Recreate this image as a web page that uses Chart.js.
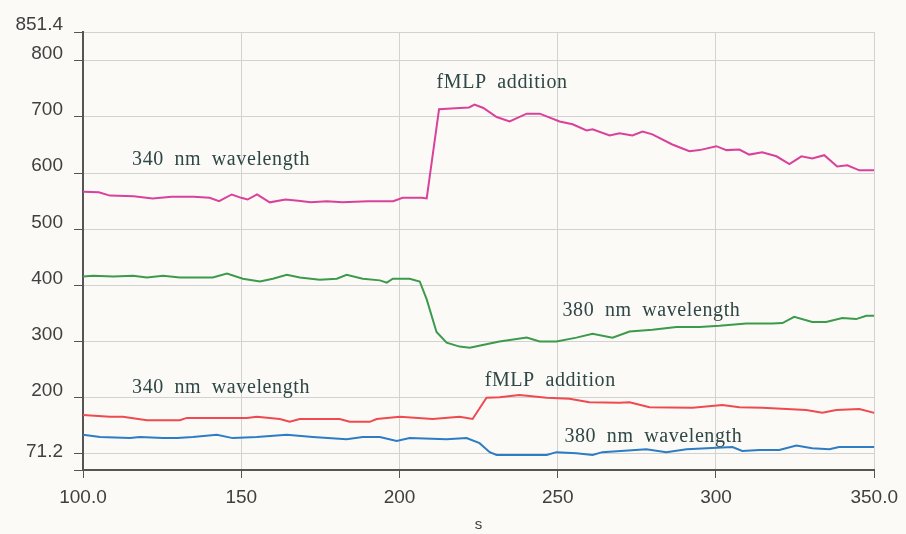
<!DOCTYPE html>
<html>
<head>
<meta charset="utf-8">
<script src="https://cdn.jsdelivr.net/npm/chart.js@4/dist/chart.umd.min.js"></script>
<style>
  html, body { margin: 0; padding: 0; background: #fbfaf7; }
  #wrap { width: 906px; height: 534px; position: relative; }
</style>
</head>
<body>
<div id="wrap"><canvas id="chart" width="906" height="534"></canvas></div>
<script>
// Time axis (s) and ratio values for each trace
const xTicks = [100, 150, 200, 250, 300, 350];
const yTicks = [71.2, 100, 200, 300, 400, 500, 600, 700, 800, 851.4];

const tMagenta = [100, 105, 108.5, 116, 122, 128, 135, 140, 143, 147, 150, 152, 155, 159, 164, 168, 172, 177, 182, 190, 198, 201, 207, 208.6, 212.5, 219, 222, 223.7, 226.5, 230.7, 234.8, 240.2, 244.3, 250.6, 254.7, 259.1, 261, 266.4, 269.5, 273.6, 276.8, 279.9, 286.2, 291.6, 294.8, 300.1, 303.3, 307.4, 310.5, 314.6, 319.1, 323.2, 327, 330.4, 334.2, 338.3, 341.5, 345.3, 350];
const vMagenta = [567, 566, 560, 559, 555, 558, 558, 556, 550, 562, 556, 553, 562, 548, 553, 551, 548, 550, 548, 550, 550, 556, 556, 555, 714, 716, 717, 722, 716, 700, 692, 706, 706, 692, 687, 676, 678, 667, 671, 667, 674, 669, 651, 639, 641, 648, 641, 642, 633, 637, 630, 616, 630, 626, 632, 612, 614, 605, 605];

const tGreen = [100, 103.2, 109.5, 115.8, 120.2, 125.3, 130.6, 141, 145.5, 150.5, 155.9, 160, 164.4, 168.5, 174.8, 180.2, 183.3, 188.4, 193.8, 196, 197.9, 203.2, 206.4, 208.6, 211.7, 214.9, 219, 222.2, 226.3, 231.6, 240.2, 244.3, 249.6, 255.9, 261, 267.3, 272.7, 279.9, 287.5, 294.8, 301.1, 309.6, 317.8, 321, 324.7, 330.4, 334.8, 339.9, 344.3, 347.5, 350];
const vGreen = [416, 417, 416, 417, 414, 417, 414, 414, 421, 412, 407, 412, 419, 414, 410, 412, 419, 412, 409, 405, 412, 412, 407, 375, 317, 298, 291, 289, 294, 300, 307, 300, 300, 307, 314, 307, 318, 321, 326, 326, 328, 332, 332, 333, 344, 335, 335, 342, 340, 346, 346];

const tRed = [100, 108.5, 112.6, 120.2, 130.6, 132.8, 151.8, 154.9, 162.2, 165.3, 168.5, 181.1, 184.3, 190.6, 192.8, 200.1, 210.5, 219, 223.1, 227.5, 231.6, 237.9, 246.5, 253.7, 260, 269.5, 272.7, 279, 292.6, 302, 307.4, 314.6, 328.5, 333.6, 338, 345.3, 350];
const vRed = [169, 166, 166, 160, 160, 164, 164, 166, 162, 157, 162, 162, 157, 157, 162, 166, 162, 166, 162, 200, 201, 205, 200, 198, 192, 191, 192, 183, 182, 187, 183, 182, 178, 173, 178, 180, 173];

const tBlue = [100, 105.4, 114.8, 118, 125.3, 129.7, 134.7, 142.3, 147.3, 154.9, 164.4, 172.6, 183.3, 188.4, 193.8, 199.1, 203.2, 214.9, 221.2, 225.3, 228.5, 230.7, 246.5, 249.6, 255.9, 261, 264.1, 278, 284.3, 290.7, 305.2, 308.3, 313.7, 320, 325.4, 330.4, 335.8, 338.9, 350];
const vBlue = [134, 130, 128, 130, 128, 128, 130, 134, 128, 130, 134, 130, 126, 130, 130, 123, 128, 126, 128, 119, 103, 98, 98, 103, 101, 98, 103, 108, 103, 108, 112, 105, 107, 107, 115, 110, 108, 112, 112];

// Text notes placed in data units: [time, value, text]
const notes = [
    [115.5, 614, '340 nm wavelength'],
    [211.7, 751, 'fMLP addition'],
    [251.5, 346, '380 nm wavelength'],
    [115.5, 209, '340 nm wavelength'],
    [226.9, 221, 'fMLP addition'],
    [252.1, 121, '380 nm wavelength']
];

const toPoints = (ts, vs) => ts.map((t, i) => ({ x: t, y: vs[i] }));

const notesPlugin = {
    id: 'notes',
    afterDatasetsDraw(chart) {
        const { ctx, scales } = chart;
        ctx.save();
        ctx.font = '20px "Liberation Serif", "Times New Roman", serif';
        ctx.fillStyle = '#2f4746';
        ctx.textAlign = 'left';
        ctx.textBaseline = 'alphabetic';
        if ('wordSpacing' in ctx) ctx.wordSpacing = '5px';
        if ('letterSpacing' in ctx) ctx.letterSpacing = '0.6px';
        notes.forEach(([t, v, text]) => {
            ctx.fillText(text, scales.x.getPixelForValue(t), scales.y.getPixelForValue(v));
        });
        ctx.restore();
    }
};

const line = (data, color) => ({
    data: data,
    borderColor: color,
    borderWidth: 2,
    pointRadius: 0,
    tension: 0,
    fill: false
});

const tickFont = { family: '"Liberation Sans", Arial, sans-serif', size: 19 };

new Chart(document.getElementById('chart'), {
    type: 'line',
    data: {
        datasets: [
            line(toPoints(tMagenta, vMagenta), '#d9419b'),
            line(toPoints(tGreen, vGreen), '#3c9a4c'),
            line(toPoints(tRed, vRed), '#ee4a50'),
            line(toPoints(tBlue, vBlue), '#2d7cc4')
        ]
    },
    options: {
        responsive: false,
        animation: false,
        layout: { padding: { top: 32, right: 31, left: 0, bottom: 0 } },
        plugins: {
            legend: { display: false },
            tooltip: { enabled: false }
        },
        scales: {
            x: {
                type: 'linear',
                min: 100,
                max: 350,
                afterBuildTicks: (scale) => { scale.ticks = xTicks.map(v => ({ value: v })); },
                afterFit: (scale) => { scale.height = 64; },
                ticks: {
                    font: tickFont,
                    color: '#404040',
                    padding: 8,
                    maxRotation: 0,
                    callback: (v) => (v === 100 || v === 350) ? v.toFixed(1) : String(v)
                },
                grid: { color: '#d2d2d0', lineWidth: 1, tickLength: 8, tickColor: '#555' },
                border: { color: '#555', width: 2 },
                title: {
                    display: true,
                    text: 's',
                    font: { family: '"Liberation Sans", Arial, sans-serif', size: 15 },
                    color: '#404040',
                    padding: { top: 4, bottom: 0 }
                }
            },
            y: {
                type: 'linear',
                min: 71.2,
                max: 851.4,
                afterBuildTicks: (scale) => { scale.ticks = yTicks.map(v => ({ value: v })); },
                afterFit: (scale) => { scale.width = 83; },
                ticks: {
                    font: tickFont,
                    color: '#404040',
                    padding: 11,
                    labelOffset: -7,
                    // the bottom label sits a line higher, clear of the x axis
                    callback: (v) => v === 100 ? '' : (v === 71.2 ? ['71.2', ''] : String(v))
                },
                grid: { color: '#d2d2d0', lineWidth: 1, tickLength: 9, tickColor: '#555' },
                border: { color: '#555', width: 2 }
            }
        }
    },
    plugins: [notesPlugin]
});
</script>
</body>
</html>
